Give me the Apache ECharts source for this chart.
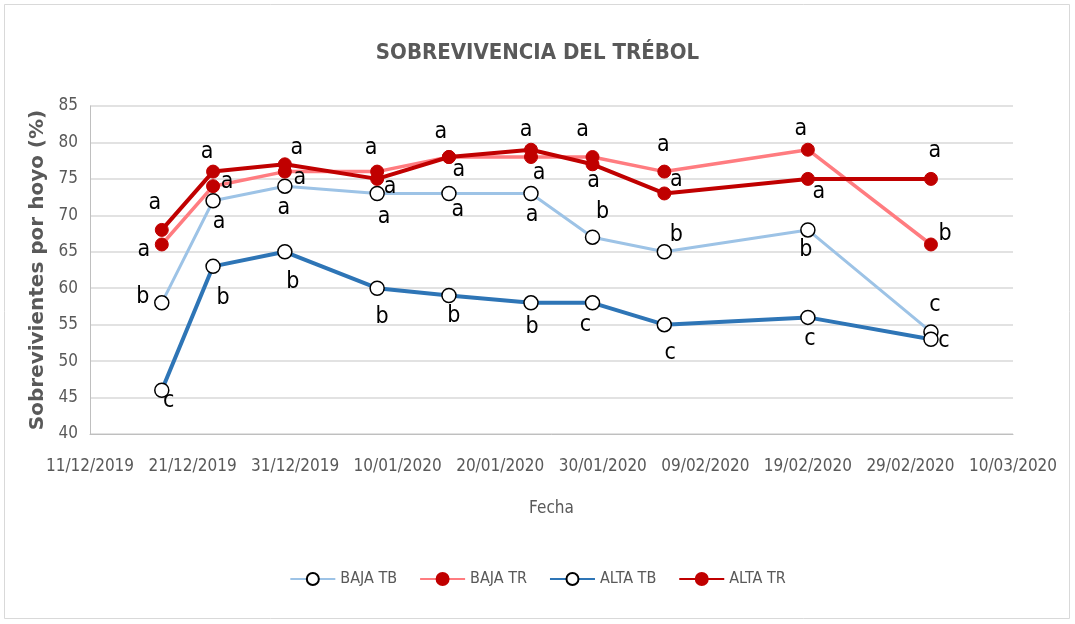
<!DOCTYPE html>
<html><head><meta charset="utf-8">
<script src="https://cdn.jsdelivr.net/npm/echarts@6/dist/echarts.min.js"></script>
<style>html,body{margin:0;padding:0;background:#fff}#c{width:1075px;height:624px}</style>
</head><body><div id="c"></div>
<script>
// ---- data ----
const dates = ['2019-12-18','2019-12-23','2019-12-30','2020-01-08','2020-01-15','2020-01-23','2020-01-29','2020-02-05','2020-02-19','2020-03-02'];
const bajaTB = [58,72,74,73,73,73,67,65,68,54];
const bajaTR = [66,74,76,76,78,78,78,76,79,66];
const altaTB = [46,63,65,60,59,58,58,55,56,53];
const altaTR = [68,76,77,75,78,79,77,73,75,75];
const lettersBajaTB = ['b','a','a','a','a','a','b','b','b','c'];
const lettersBajaTR = ['a','a','a','a','a','a','a','a','a','b'];
const lettersAltaTB = ['c','b','b','b','b','b','c','c','c','c'];
const lettersAltaTR = ['a','a','a','a','a','a','a','a','a','a'];
const seriesNames = ['BAJA TB','BAJA TR','ALTA TB','ALTA TR'];
const xStart = '2019-12-11', xEnd = '2020-03-10';
const xTickDays = 10;
const yMin = 40, yMax = 85, yStep = 5;

// ---- layout: label offsets (px) relative to each point ----
const offBajaTB = [[-19,-6],[6,21],[-1,22],[7,24],[9,17],[1,22],[10,-25],[12,-17],[-2,20],[4,-27]];
const offBajaTR = [[-18,6],[14,-4],[15,6],[13,15],[10,13],[8,16],[-10,-27],[-1,-27],[-7,-21],[14,-10]];
const offAltaTB = [[7,11],[10,32],[8,30],[5,29],[5,21],[1,24],[-7,22],[6,28],[2,22],[13,2]];
const offAltaTR = [[-7,-27],[-6,-20],[12,-16],[-6,-31],[-8,-25],[-5,-20],[1,17],[12,-13],[11,13],[4,-28]];

const DAY = 86400000;
const t0 = Date.parse(xStart);
const dayOf = d => Math.round((Date.parse(d) - t0) / DAY);
const xMax = dayOf(xEnd);
const pad = n => (n < 10 ? '0' : '') + n;
const fmtDay = v => { const d = new Date(t0 + v * DAY); return pad(d.getUTCDate()) + '/' + pad(d.getUTCMonth() + 1) + '/' + d.getUTCFullYear(); };

const NARROW = '"Liberation Sans Narrow","DejaVu Sans Condensed",sans-serif';
const GRAY = '#595959';

function build(vals, letters, offs) {
  return vals.map((v, i) => ({
    value: [dayOf(dates[i]), v],
    label: { formatter: letters[i], offset: offs[i] }
  }));
}
const lbl = { show: true, position: 'inside', align: 'center', verticalAlign: 'middle', color: '#000', fontSize: 23, fontFamily: NARROW };

const chart = echarts.init(document.getElementById('c'), null, { renderer: 'canvas' });
chart.setOption({
  backgroundColor: '#fff',
  animation: false,
  graphic: [{ type: 'rect', shape: { x: 4.5, y: 4.5, width: 1065, height: 614 }, style: { fill: 'none', stroke: '#d9d9d9', lineWidth: 1 }, silent: true }],
  title: { text: 'SOBREVIVENCIA DEL TRÉBOL', left: 'center', top: 37, textStyle: { color: GRAY, fontSize: 22, fontWeight: 'bold', fontFamily: NARROW } },
  grid: { left: 90, right: 62, top: 106, bottom: 190 },
  xAxis: {
    type: 'value', min: 0, max: xMax, interval: xTickDays,
    name: 'Fecha', nameLocation: 'middle', nameGap: 66,
    nameTextStyle: { color: GRAY, fontSize: 17, fontFamily: NARROW },
    axisLine: { show: true, lineStyle: { color: '#bfbfbf', width: 1 } },
    axisTick: { show: false },
    splitLine: { show: false },
    axisLabel: { formatter: fmtDay, color: GRAY, fontSize: 17, fontFamily: NARROW, margin: 24 }
  },
  yAxis: {
    type: 'value', min: yMin, max: yMax, interval: yStep,
    name: 'Sobrevivientes por hoyo (%)', nameLocation: 'middle', nameGap: 38, nameRotate: 90,
    nameTextStyle: { color: GRAY, fontSize: 20, fontWeight: 'bold', fontFamily: '"DejaVu Sans",sans-serif' },
    axisLine: { show: true, lineStyle: { color: '#bfbfbf', width: 1 } },
    axisTick: { show: false },
    splitLine: { show: true, lineStyle: { color: '#d9d9d9', width: 1.5 } },
    axisLabel: { color: GRAY, fontSize: 17, fontFamily: NARROW, margin: 12 }
  },
  legend: {
    bottom: 32, left: 'center', itemWidth: 45, itemHeight: 15, itemGap: 22,
    textStyle: { color: GRAY, fontSize: 16, fontFamily: NARROW },
    data: seriesNames
  },
  series: [
    { name: seriesNames[0], type: 'line', data: build(bajaTB, lettersBajaTB, offBajaTB), z: 2,
      lineStyle: { color: '#9dc3e6', width: 3 }, symbol: 'circle', symbolSize: 14,
      itemStyle: { color: '#ffffff', borderColor: '#000', borderWidth: 1.5 }, label: lbl },
    { name: seriesNames[1], type: 'line', data: build(bajaTR, lettersBajaTR, offBajaTR), z: 3,
      lineStyle: { color: '#ff7c80', width: 3.5 }, symbol: 'circle', symbolSize: 13,
      itemStyle: { color: '#c00000', borderColor: '#c00000', borderWidth: 1 }, label: lbl },
    { name: seriesNames[2], type: 'line', data: build(altaTB, lettersAltaTB, offAltaTB), z: 2,
      lineStyle: { color: '#2e75b6', width: 4 }, symbol: 'circle', symbolSize: 14,
      itemStyle: { color: '#ffffff', borderColor: '#000', borderWidth: 1.5 }, label: lbl },
    { name: seriesNames[3], type: 'line', data: build(altaTR, lettersAltaTR, offAltaTR), z: 4,
      lineStyle: { color: '#c00000', width: 4 }, symbol: 'circle', symbolSize: 13,
      itemStyle: { color: '#c00000', borderColor: '#c00000', borderWidth: 1 }, label: lbl }
  ]
});
</script></body></html>
